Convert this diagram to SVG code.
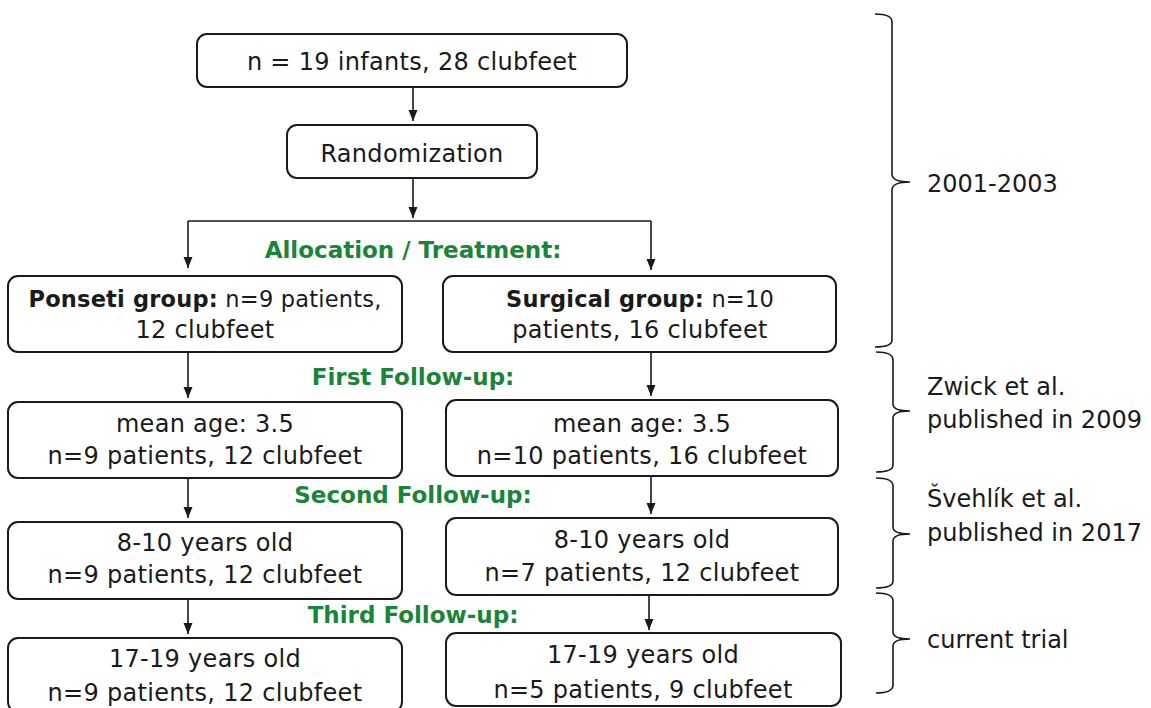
<svg xmlns="http://www.w3.org/2000/svg" width="1151" height="708" viewBox="0 0 1151 708">
<defs>
<style>
.box{fill:#fff;stroke:#1a1a1a;stroke-width:2}
.t{font-family:"DejaVu Sans",sans-serif;font-size:24px;fill:#1a1a1a;text-anchor:middle;letter-spacing:0.3px}
.s{font-size:22.5px;letter-spacing:0.2px}
.b{font-weight:bold}
.g{font-family:"DejaVu Sans",sans-serif;font-size:23px;font-weight:bold;fill:#1a8439;text-anchor:middle}
.r{font-family:"DejaVu Sans",sans-serif;font-size:24px;fill:#1a1a1a}
.c{fill:none;stroke:#1a1a1a;stroke-width:1.6}
.br{fill:none;stroke:#1a1a1a;stroke-width:1.6}
</style>
<marker id="ah" markerWidth="12" markerHeight="10" refX="11" refY="4.5" orient="auto" markerUnits="userSpaceOnUse">
<path d="M0,0 L11,4.5 L0,9 z" fill="#1a1a1a"/>
</marker>
</defs>
<rect width="1151" height="708" fill="#fff"/>
<g id="connectors">
<path class="c" d="M413,87 V121" marker-end="url(#ah)"/>
<path class="c" d="M413,178 V218" marker-end="url(#ah)"/>
<path class="c" d="M188,221 H651"/>
<path class="c" d="M188,221 V268" marker-end="url(#ah)"/>
<path class="c" d="M651,221 V270" marker-end="url(#ah)"/>
<path class="c" d="M188,352 V398" marker-end="url(#ah)"/>
<path class="c" d="M651,352 V396" marker-end="url(#ah)"/>
<path class="c" d="M188,478 V518" marker-end="url(#ah)"/>
<path class="c" d="M651,476 V514" marker-end="url(#ah)"/>
<path class="c" d="M188,599 V634" marker-end="url(#ah)"/>
<path class="c" d="M649,595 V630" marker-end="url(#ah)"/>
</g>
<g id="start">
<rect class="box" x="197" y="34" width="430" height="53" rx="10"/>
<text class="t" x="412" y="70">n = 19 infants, 28 clubfeet</text>
</g>
<g id="randomization">
<rect class="box" x="287" y="125" width="250" height="53" rx="10"/>
<text class="t" x="412" y="162">Randomization</text>
</g>
<g id="label-allocation"><text class="g" x="413" y="258">Allocation / Treatment:</text></g>
<g id="ponseti">
<rect class="box" x="8" y="276" width="394" height="76" rx="10"/>
<text class="t s" x="205" y="307"><tspan class="b">Ponseti group:</tspan> n=9 patients,</text>
<text class="t" x="205" y="338">12 clubfeet</text>
</g>
<g id="surgical">
<rect class="box" x="443" y="276" width="393" height="76" rx="10"/>
<text class="t s" x="640" y="307"><tspan class="b">Surgical group:</tspan> n=10</text>
<text class="t" x="640" y="338">patients, 16 clubfeet</text>
</g>
<g id="label-first"><text class="g" x="413" y="385">First Follow-up:</text></g>
<g id="p-first">
<rect class="box" x="8" y="402" width="394" height="76" rx="10"/>
<text class="t" x="205" y="432">mean age: 3.5</text>
<text class="t" x="205" y="464">n=9 patients, 12 clubfeet</text>
</g>
<g id="s-first">
<rect class="box" x="446" y="400" width="392" height="76" rx="10"/>
<text class="t" x="642" y="432">mean age: 3.5</text>
<text class="t" x="642" y="464">n=10 patients, 16 clubfeet</text>
</g>
<g id="label-second"><text class="g" x="413" y="503">Second Follow-up:</text></g>
<g id="p-second">
<rect class="box" x="8" y="522" width="394" height="77" rx="10"/>
<text class="t" x="205" y="551">8-10 years old</text>
<text class="t" x="205" y="583">n=9 patients, 12 clubfeet</text>
</g>
<g id="s-second">
<rect class="box" x="446" y="518" width="392" height="77" rx="10"/>
<text class="t" x="642" y="548">8-10 years old</text>
<text class="t" x="642" y="581">n=7 patients, 12 clubfeet</text>
</g>
<g id="label-third"><text class="g" x="413" y="623">Third Follow-up:</text></g>
<g id="p-third">
<rect class="box" x="8" y="638" width="394" height="74" rx="10"/>
<text class="t" x="205" y="667">17-19 years old</text>
<text class="t" x="205" y="701">n=9 patients, 12 clubfeet</text>
</g>
<g id="s-third">
<rect class="box" x="446" y="633" width="395" height="73" rx="10"/>
<text class="t" x="643" y="663">17-19 years old</text>
<text class="t" x="643" y="698">n=5 patients, 9 clubfeet</text>
</g>
<g id="brackets">
<path class="br" d="M875,14 Q892,14 892,22 V174 Q892,182 910,182 Q892,182 892,190 V340 Q892,347 875,347"/>
<path class="br" d="M876,352 Q893,352 893,360 V404 Q893,411 910,411 Q893,411 893,418 V465 Q893,472 876,472"/>
<path class="br" d="M876,478 Q893,478 893,486 V527 Q893,534 910,534 Q893,534 893,541 V581 Q893,588 876,588"/>
<path class="br" d="M876,593 Q893,593 893,601 V632 Q893,639 910,639 Q893,639 893,646 V685 Q893,693 876,693"/>
</g>
<g id="period-labels">
<text class="r" x="927" y="192">2001-2003</text>
<text class="r" x="927" y="395">Zwick et al.</text>
<text class="r" x="927" y="428">published in 2009</text>
<text class="r" x="927" y="507">Švehlík et al.</text>
<text class="r" x="927" y="541">published in 2017</text>
<text class="r" x="927" y="648">current trial</text>
</g>
</svg>
